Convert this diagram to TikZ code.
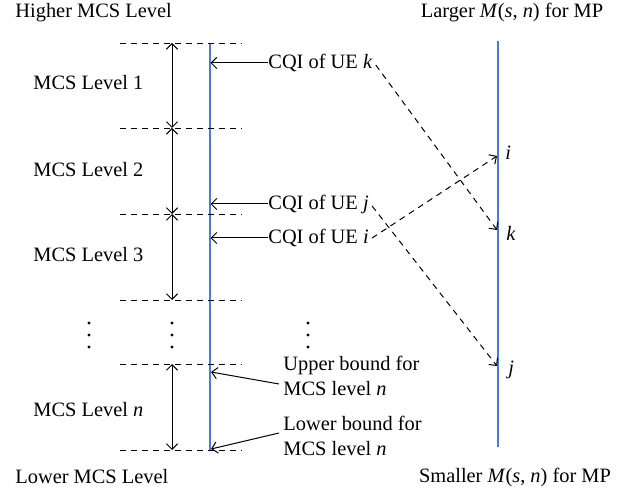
\documentclass[tikz,border=0pt]{standalone}
\usepackage{fontspec}
\setmainfont{Liberation Serif}
\usetikzlibrary{calc,arrows.meta}
\definecolor{lineblue}{RGB}{70,125,205}
\begin{document}
\begin{tikzpicture}[x=0.5pt,y=-0.5pt,
  txt/.style={font=\fontsize{10.2}{12.5}\selectfont, inner sep=0pt},
  lvl/.style={draw, dashed, dash pattern=on 3pt off 2.5pt, line width=0.45pt},
  axis/.style={draw=lineblue, line width=0.6pt},
  tip/.style={Straight Barb[length=2.8pt,width=5.6pt,line width=0.5pt]},
  dbl/.style={draw, {Straight Barb[length=2.8pt,width=5.6pt]}-{Straight Barb[length=2.8pt,width=5.6pt]}, line width=0.5pt},
  arr/.style={draw, -{Straight Barb[length=2.8pt,width=5.6pt]}, line width=0.5pt},
  darr/.style={draw, -{Straight Barb[length=2.8pt,width=5.6pt]}, dashed, dash pattern=on 3pt off 2.5pt, line width=0.5pt},
  dot/.style={fill, circle, inner sep=0pt, minimum size=1.7pt}]
\useasboundingbox (0,0) rectangle (624,490);

% axes
\coordinate (ltop) at (210,43);
\coordinate (lbot) at (210,450);
\coordinate (rtop) at (498,41);
\coordinate (rbot) at (498,447);
\draw[axis] (ltop) -- (lbot);
\draw[axis] (rtop) -- (rbot);

% level lines
\foreach \n/\y in {a/43,b/128,c/214,d/300,e/364,f/450}{
  \coordinate (L\n) at (120,\y);
  \coordinate (R\n) at (242,\y);
  \coordinate (M\n) at (172,\y);
  \draw[lvl] (L\n) -- (R\n);
}
\draw[dbl] (Ma) -- (Mb);
\draw[dbl] (Mb) -- (Mc);
\draw[dbl] (Mc) -- (Md);
\draw[dbl] (Me) -- (Mf);

% titles
\node[txt, anchor=west] (hi) at (15,13) {Higher MCS Level};
\node[txt, anchor=west] (lo) at (15,477) {Lower MCS Level};
\node[txt] (lg) at (512,13) {Larger \textit{M}(\textit{s}, \textit{n}) for MP};
\node[txt] (sm) at (515,477) {Smaller \textit{M}(\textit{s}, \textit{n}) for MP};

% level labels
\node[txt, anchor=west] (l1) at (33,83) {MCS Level 1};
\node[txt, anchor=west] (l2) at (33,170) {MCS Level 2};
\node[txt, anchor=west] (l3) at (33,255) {MCS Level 3};
\node[txt, anchor=west] (ln) at (33,410) {MCS Level \textit{n}};

% vertical dots
\foreach \x/\nm in {89/p,172/q,308/r}{
  \node[dot] (\nm1) at (\x,323) {};
  \node[dot] (\nm2) at (\x,335) {};
  \node[dot] (\nm3) at (\x,347) {};
}

% CQI labels
\node[txt, anchor=west] (cqk) at (268,63) {CQI of UE \textit{k}};
\node[txt, anchor=west] (cqj) at (268,204) {CQI of UE \textit{j}};
\node[txt, anchor=west] (cqi) at (268,238) {CQI of UE \textit{i}};
\coordinate (tk) at (210.5,63);
\coordinate (tj) at (210.5,204);
\coordinate (ti) at (210.5,238);
\draw[arr] (cqk.west) -- (tk);
\draw[arr] (cqj.west) -- (tj);
\draw[arr] (cqi.west) -- (ti);

% right labels
\node[txt, anchor=west] (ri) at (505,153) {\textit{i}};
\node[txt, anchor=west] (rk) at (506,233) {\textit{k}};
\node[txt, anchor=west] (rj) at (508,370) {\textit{j}};
\coordinate (pi) at (497,156);
\coordinate (pk) at (497,230);
\coordinate (pj) at (497,366);
\draw[darr] ($(cqk.east)+(3,2)$) -- (pk);
\draw[darr] ($(cqi.east)+(3,0)$) -- (pi);
\draw[darr] ($(cqj.east)+(3,2)$) -- (pj);

% bound labels
\node[txt, anchor=west, align=left] (ub) at (283,376) {Upper bound for\\MCS level \textit{n}};
\node[txt, anchor=west, align=left] (lb) at (283,436) {Lower bound for\\MCS level \textit{n}};
\coordinate (ubt) at (211,372);
\coordinate (lbt) at (211,449);
\draw[arr] ($(ub.west)+(-4,8)$) -- (ubt);
\draw[arr] ($(lb.west)+(-4,-3)$) -- (lbt);
\end{tikzpicture}
\end{document}
